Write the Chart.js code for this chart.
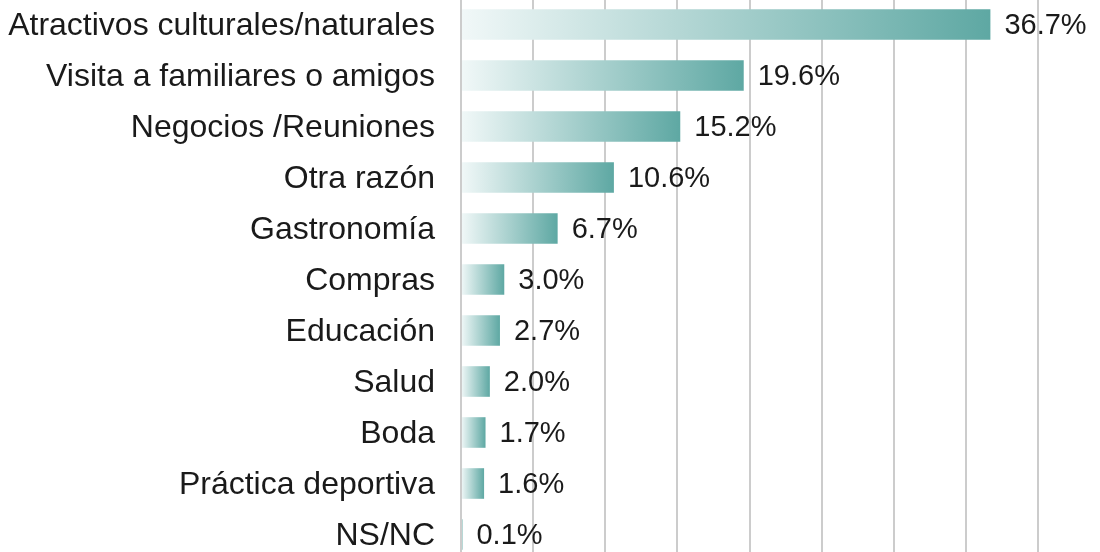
<!DOCTYPE html>
<html>
<head>
<meta charset="utf-8">
<script src="https://cdn.jsdelivr.net/npm/chart.js@4.4.1/dist/chart.umd.min.js"></script>
<style>
  html, body { margin: 0; padding: 0; background: #fff; overflow: hidden; }
  #wrap { position: absolute; left: 0; top: -1px; width: 1100px; height: 561px; }
</style>
</head>
<body>
<div id="wrap"><canvas id="chart"></canvas></div>
<script>
// motivos de viaje
const categorias = [
    'Atractivos culturales/naturales',
    'Visita a familiares o amigos',
    'Negocios /Reuniones',
    'Otra razón',
    'Gastronomía',
    'Compras',
    'Educación',
    'Salud',
    'Boda',
    'Práctica deportiva',
    'NS/NC'
];
const porcentajes = [36.7, 19.6, 15.2, 10.6, 6.7, 3.0, 2.7, 2.0, 1.7, 1.6, 0.1];
const ejeMax = 40;
const ejePaso = 5;

const fuente = '"Liberation Sans", Arial, sans-serif';

// degradado blanco -> verde azulado a lo largo de cada barra
function degradado(context) {
    const chart = context.chart;
    const x = chart.scales.x;
    if (!x || context.dataIndex === undefined) return '#5ea8a3';
    const v = context.dataset.data[context.dataIndex];
    const x0 = x.getPixelForValue(0);
    const x1 = x.getPixelForValue(v);
    if (!isFinite(x0) || !isFinite(x1) || x1 - x0 < 1) return '#eef6f6';
    const g = chart.ctx.createLinearGradient(x0, 0, x1, 0);
    g.addColorStop(0, '#f1f8f8');
    g.addColorStop(1, '#5ea8a3');
    return g;
}

// etiquetas de valor a la derecha de cada barra
const etiquetas = {
    id: 'etiquetas',
    afterDatasetsDraw(chart) {
        const ctx = chart.ctx;
        const meta = chart.getDatasetMeta(0);
        ctx.save();
        ctx.font = '29px ' + fuente;
        ctx.fillStyle = '#1a1a1a';
        ctx.textAlign = 'left';
        ctx.textBaseline = 'middle';
        meta.data.forEach(function(bar, i) {
            ctx.fillText(porcentajes[i].toFixed(1) + '%', bar.x + 14, bar.y + 1);
        });
        ctx.restore();
    }
};

new Chart(document.getElementById('chart'), {
    type: 'bar',
    data: {
        labels: categorias,
        datasets: [{
            data: porcentajes,
            backgroundColor: degradado,
            borderWidth: 0,
            barPercentage: 0.6,
            categoryPercentage: 1.0
        }]
    },
    options: {
        indexAxis: 'y',
        responsive: true,
        maintainAspectRatio: false,
        animation: false,
        layout: { padding: { left: 0, right: 62, top: 0, bottom: 0 } },
        scales: {
            x: {
                min: 0,
                max: ejeMax,
                display: true,
                ticks: { display: false, stepSize: ejePaso, padding: 0 },
                grid: { color: '#cccccc', lineWidth: 2, drawTicks: false },
                border: { display: false }
            },
            y: {
                ticks: {
                    color: '#1a1a1a',
                    font: { family: fuente, size: 32 },
                    padding: 26,
                    labelOffset: 2
                },
                grid: { display: false, drawTicks: false },
                border: { display: true, color: '#cccccc', width: 2 },
                afterFit(scale) {
                    scale.width = 461;
                    scale.paddingTop = 0;
                    scale.paddingBottom = 0;
                }
            }
        },
        plugins: {
            legend: { display: false },
            tooltip: { enabled: false }
        }
    },
    plugins: [etiquetas]
});
</script>
</body>
</html>
